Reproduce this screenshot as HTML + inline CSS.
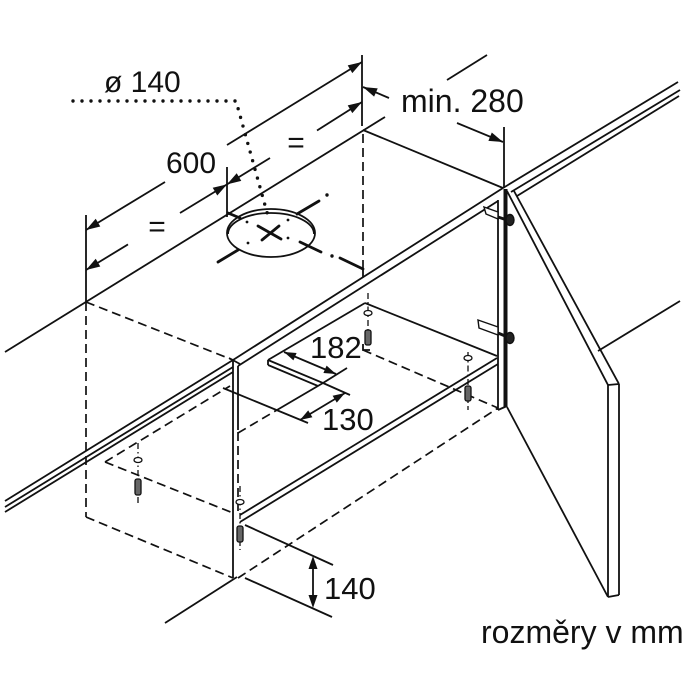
<!DOCTYPE html>
<html><head><meta charset="utf-8"><style>
html,body{margin:0;padding:0;background:#fff;}
svg{display:block;}
text{font-family:"Liberation Sans",Arial,sans-serif;fill:#111;}
</style></head><body>
<svg width="700" height="700" viewBox="0 0 700 700" xmlns="http://www.w3.org/2000/svg">
<g stroke="#111" stroke-width="1.8" fill="none" stroke-linecap="butt">
<line x1="5" y1="352" x2="385" y2="117"/>
<line x1="447" y1="80" x2="487" y2="55"/>
<line x1="363" y1="130" x2="503" y2="188"/>
<line x1="503" y1="188" x2="678" y2="82"/>
<line x1="511" y1="192" x2="680" y2="90"/>
<line x1="517" y1="196" x2="679" y2="96"/>
<line x1="362" y1="55" x2="362" y2="126"/>
<line x1="504" y1="127" x2="504" y2="188"/>
<line x1="86" y1="215" x2="86" y2="302"/>
<line x1="227" y1="167" x2="227" y2="217"/>
<line x1="86" y1="230" x2="165" y2="182"/>
<line x1="227" y1="145" x2="362" y2="62"/>
<line x1="86" y1="270" x2="128" y2="244.4"/>
<line x1="180" y1="213" x2="227" y2="184.4"/>
<line x1="227" y1="184.4" x2="270" y2="158"/>
<line x1="317" y1="130.5" x2="362" y2="102"/>
<line x1="363" y1="87" x2="389" y2="98"/>
<line x1="457" y1="123" x2="503" y2="142"/>
<polyline points="5,501 233,360 503,188"/>
<line x1="5" y1="507" x2="233" y2="367"/>
<line x1="5" y1="512" x2="233" y2="372"/>
<line x1="238" y1="366" x2="498" y2="201"/>
<line x1="229" y1="358" x2="240" y2="364"/>
<line x1="233" y1="360" x2="233" y2="578"/>
<line x1="238" y1="366" x2="238" y2="430"/>
<line x1="268" y1="360" x2="365" y2="303"/>
<line x1="365" y1="303" x2="497" y2="356"/>
<line x1="240" y1="515" x2="497" y2="358"/>
<line x1="240" y1="522" x2="498" y2="364"/>
<line x1="268" y1="360" x2="323" y2="383"/>
<line x1="268" y1="365" x2="318" y2="386"/>
<line x1="268" y1="360" x2="268" y2="365"/>
<line x1="323" y1="383" x2="277" y2="410"/>
<line x1="223" y1="388" x2="308" y2="423"/>
<line x1="323" y1="383" x2="347" y2="368"/>
<line x1="323" y1="383" x2="350" y2="395"/>
<line x1="284" y1="352" x2="336" y2="374"/>
<line x1="300" y1="420" x2="345" y2="393"/>
<line x1="498" y1="200" x2="498" y2="410"/>
<line x1="505.5" y1="189" x2="505.5" y2="407" stroke-width="4"/>
<line x1="498" y1="410" x2="507" y2="406"/>
<line x1="507" y1="191" x2="608" y2="385"/>
<line x1="514" y1="191" x2="619" y2="384"/>
<line x1="608" y1="385" x2="619" y2="384"/>
<line x1="608" y1="385" x2="608" y2="597"/>
<line x1="619" y1="384" x2="619" y2="595"/>
<line x1="608" y1="597" x2="619" y2="595"/>
<line x1="507" y1="407" x2="608" y2="597"/>
<line x1="598" y1="351" x2="680" y2="301"/>
<line x1="165" y1="623" x2="237" y2="577"/>
<line x1="245" y1="525" x2="333" y2="565"/>
<line x1="245" y1="578" x2="332" y2="617"/>
<line x1="313" y1="566" x2="313" y2="598"/>
<polyline points="363,344 363,350 370,350"/>
</g>
<g stroke="#111" stroke-width="1.7" fill="none" stroke-dasharray="9 5">
<line x1="363" y1="134" x2="363" y2="268"/>
<line x1="86" y1="302" x2="233" y2="360"/>
<line x1="86" y1="302" x2="86" y2="517"/>
<line x1="86" y1="517" x2="233" y2="578"/>
<line x1="105" y1="462" x2="230" y2="386"/>
<line x1="105" y1="462" x2="233" y2="513"/>
<line x1="238" y1="433" x2="277" y2="410"/>
<line x1="238" y1="432" x2="238" y2="515"/>
<line x1="238" y1="578" x2="498" y2="408"/>
<line x1="363" y1="350" x2="498" y2="408"/>
</g>
<polyline points="73,101 236,101 268,216" stroke="#111" stroke-width="3.4" fill="none" stroke-dasharray="0 9" stroke-linecap="round"/>
<g stroke="#111" stroke-width="1.8" fill="none">
<ellipse cx="271" cy="233" rx="44" ry="24"/>
<path d="M228,234 A43,21 0 0 1 314,234"/>
</g>
<g stroke="#111" stroke-width="2.8" stroke-linecap="round">
<line x1="258" y1="226" x2="281" y2="239"/>
<line x1="262" y1="240" x2="279" y2="226"/>
<line x1="218" y1="262" x2="238" y2="250"/>
<line x1="297" y1="214" x2="319" y2="201"/>
<line x1="228" y1="213" x2="240" y2="218"/>
<line x1="300" y1="242" x2="321" y2="252"/>
<line x1="340" y1="258" x2="363" y2="269"/>
<line x1="363" y1="269" x2="363" y2="277" stroke-width="1.8"/>
</g>
<g fill="#111">
<circle cx="327" cy="195" r="1.7"/>
<circle cx="332" cy="256" r="1.7"/>
<circle cx="248" cy="243" r="1.4"/>
<circle cx="288" cy="238" r="1.4"/>
<circle cx="247" cy="222" r="1.4"/>
<circle cx="288" cy="220" r="1.4"/>
</g>
<g fill="#111" stroke="none">
<polygon points="86,230 100.3,226.5 95.7,218.8"/>
<polygon points="362,62 352.3,73.1 347.7,65.4"/>
<polygon points="86,270 100.3,266.5 95.7,258.8"/>
<polygon points="227,184.4 217.3,195.5 212.7,187.8"/>
<polygon points="227,184.4 241.3,180.9 236.7,173.2"/>
<polygon points="362,102 352.3,113.1 347.7,105.4"/>
<polygon points="363,87 377.7,88.4 374.1,96.6"/>
<polygon points="503,142 488.4,140.9 491.8,132.5"/>
<polygon points="336,374 323.4,373 326.6,365.6"/>
<polygon points="284,352 293.4,360.4 296.6,353"/>
<polygon points="345,393 336.8,402.6 332.6,395.8"/>
<polygon points="300,420 312.4,417.2 308.2,410.4"/>
<polygon points="313,556 308.5,569 317.5,569"/>
<polygon points="313,608 308.5,595 317.5,595"/>
</g>
<g stroke="#111" stroke-width="1.3" fill="none">
<line x1="368" y1="293" x2="368" y2="344" stroke-dasharray="6 3 1.5 3"/>
<ellipse cx="368" cy="313" rx="4" ry="2.5" fill="#fff"/>
<rect x="365" y="330" width="6" height="15" rx="2" fill="#666"/>
<line x1="468" y1="352" x2="468" y2="410" stroke-dasharray="6 3 1.5 3"/>
<ellipse cx="468" cy="358" rx="4" ry="2.5" fill="#fff"/>
<rect x="465" y="386" width="6" height="15" rx="2" fill="#666"/>
<line x1="138" y1="443" x2="138" y2="504" stroke-dasharray="6 3 1.5 3"/>
<ellipse cx="138" cy="460" rx="4" ry="2.5" fill="#fff"/>
<rect x="135" y="479" width="6" height="16" rx="2" fill="#666"/>
<line x1="240" y1="486" x2="240" y2="550" stroke-dasharray="6 3 1.5 3"/>
<ellipse cx="240" cy="502" rx="4" ry="2.5" fill="#fff"/>
<rect x="237" y="526" width="6" height="16" rx="2" fill="#666"/>
</g>
<g stroke="#111" stroke-width="1.4">
<polygon points="484,207 498,212 498,219 486,214" fill="#fff"/>
<line x1="498" y1="217" x2="510" y2="221" stroke-width="3"/>
<ellipse cx="510" cy="220" rx="4" ry="5.5" fill="#222"/>
<polygon points="478,320 498,327 498,335 479,328" fill="#fff"/>
<line x1="498" y1="333" x2="510" y2="338" stroke-width="3"/>
<ellipse cx="510" cy="338" rx="4" ry="5.5" fill="#222"/>
</g>
<text x="104" y="92" font-size="30">ø 140</text>
<text x="166" y="173" font-size="30">600</text>
<text x="157" y="236.5" font-size="30" text-anchor="middle">=</text>
<text x="296" y="152.5" font-size="30" text-anchor="middle">=</text>
<text x="401" y="112" font-size="32">min. 280</text>
<text x="310" y="358" font-size="31">182</text>
<text x="322" y="430" font-size="31">130</text>
<text x="324" y="599" font-size="31">140</text>
<text x="481" y="643" font-size="32">rozměry v mm</text>
</svg>
</body></html>
